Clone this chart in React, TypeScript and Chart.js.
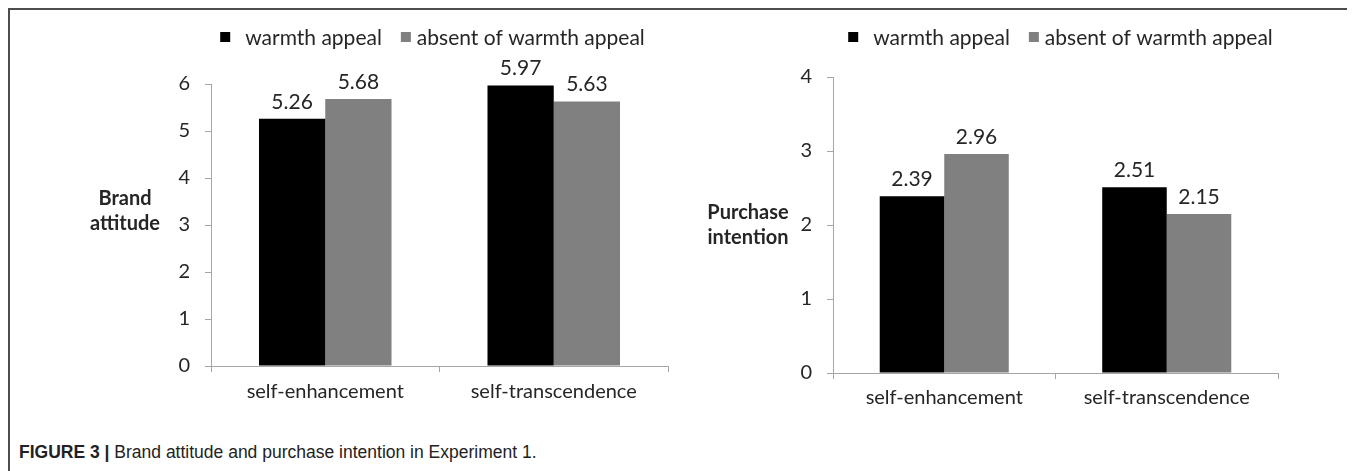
import React, { useEffect, useRef } from "react";
import { Chart, registerables } from "chart.js";
Chart.register(...registerables);

// ---------- data ----------
const categories = ["self-enhancement", "self-transcendence"];
const seriesNames = ["warmth appeal", "absent of warmth appeal"];
const brandWarmth = [5.26, 5.97];
const brandAbsent = [5.68, 5.63];
const purchaseWarmth = [2.39, 2.51];
const purchaseAbsent = [2.96, 2.15];
const brandTitle = ["Brand", "attitude"];
const purchaseTitle = ["Purchase", "intention"];
const brandMax = 6;
const purchaseMax = 4;
const seriesColors = ["#000000", "#808080"];

const FONT = "Lato, 'Open Sans', sans-serif";
const TEXT = "#262626";
const AXIS = "#a6a6a6";

const annotatePlugin = {
  id: "annotate",
  afterDatasetsDraw(chart: any, _args: any, opts: any) {
    const ctx = chart.ctx;
    const ca = chart.chartArea;
    ctx.save();
    ctx.fillStyle = TEXT;
    // value labels
    ctx.font = `21px ${FONT}`;
    ctx.textAlign = "center";
    ctx.textBaseline = "alphabetic";
    chart.data.datasets.forEach((ds: any, di: number) => {
      const meta = chart.getDatasetMeta(di);
      meta.data.forEach((bar: any, i: number) => {
        ctx.fillText(Number(ds.data[i]).toFixed(2), bar.x, bar.y - 10);
      });
    });
    // legend
    ctx.textAlign = "left";
    ctx.textBaseline = "middle";
    const sq = 10;
    const gaps = [15, 6];
    const itemGap = 19;
    const items = chart.data.datasets.map((ds: any) => ({
      label: ds.label,
      color: ds.backgroundColor,
      w: ctx.measureText(ds.label).width,
    }));
    let total = 0;
    items.forEach((it: any, k: number) => {
      total += sq + gaps[k] + it.w + (k < items.length - 1 ? itemGap : 0);
    });
    let x = (ca.left + ca.right) / 2 + opts.legendDx - total / 2;
    const ly = opts.legendY;
    items.forEach((it: any, k: number) => {
      ctx.fillStyle = it.color;
      ctx.fillRect(x, ly - sq / 2, sq, sq);
      x += sq + gaps[k];
      ctx.fillStyle = TEXT;
      ctx.fillText(it.label, x, ly + 1);
      x += it.w + itemGap;
    });
    // axis title (horizontal, bold, two lines)
    ctx.font = `bold 20px ${FONT}`;
    ctx.textAlign = "center";
    ctx.textBaseline = "middle";
    const cy = chart.scales.y.getPixelForValue(opts.titleValue);
    const lines: string[] = opts.title;
    const lh = 25;
    lines.forEach((l, k) => {
      ctx.fillText(l, ca.left + opts.titleDx, cy + (k - (lines.length - 1) / 2) * lh);
    });
    ctx.restore();
  },
};

type Props = {
  warmth: number[];
  absent: number[];
  max: number;
  title: string[];
  width: number;
  height: number;
  padding: { left: number; right: number; top: number; bottom: number };
  titleValue: number;
  titleDx: number;
  legendDx: number;
  legendY: number;
  labelPad: number;
};

function BarChart(p: Props) {
  const ref = useRef<HTMLCanvasElement | null>(null);
  useEffect(() => {
    if (!ref.current) return;
    const chart = new Chart(ref.current, {
      type: "bar",
      data: {
        labels: categories,
        datasets: [
          { label: seriesNames[0], data: p.warmth, backgroundColor: seriesColors[0], borderWidth: 0 },
          { label: seriesNames[1], data: p.absent, backgroundColor: seriesColors[1], borderWidth: 0 },
        ],
      },
      options: {
        responsive: false,
        animation: false,
        devicePixelRatio: 1,
        layout: { padding: p.padding },
        datasets: { bar: { categoryPercentage: 0.58, barPercentage: 1 } },
        plugins: {
          legend: { display: false },
          tooltip: { enabled: false },
          annotate: {
            title: p.title,
            titleValue: p.titleValue,
            titleDx: p.titleDx,
            legendDx: p.legendDx,
            legendY: p.legendY,
          },
        } as any,
        scales: {
          x: {
            afterFit: (s: any) => {
              s.height = 40;
            },
            grid: {
              display: true,
              drawOnChartArea: false,
              drawTicks: true,
              tickLength: 6,
              color: AXIS,
              offset: true,
            },
            border: { display: true, color: AXIS, width: 1 },
            ticks: { color: TEXT, font: { family: FONT, size: 20 }, padding: p.labelPad, maxRotation: 0 },
          },
          y: {
            min: 0,
            max: p.max,
            afterFit: (s: any) => {
              s.width = 50;
            },
            grid: {
              display: true,
              drawOnChartArea: false,
              drawTicks: true,
              tickLength: 6,
              color: AXIS,
            },
            border: { display: true, color: AXIS, width: 1 },
            ticks: { stepSize: 1, color: TEXT, font: { family: FONT, size: 20 }, padding: 15 },
          },
        },
      },
      plugins: [annotatePlugin],
    });
    return () => chart.destroy();
  }, []);
  return <canvas ref={ref} width={p.width} height={p.height} style={{ display: "block", width: p.width, height: p.height }} />;
}

export default function App() {
  return (
    <div style={{ position: "relative", width: 1347, height: 463, background: "#fff", overflow: "hidden" }}>
      <div style={{ position: "absolute", left: 0, top: 0, width: 1347, height: 2, background: "#4d4d4d" }} />
      <div style={{ position: "absolute", left: 0, top: 0, width: 2, height: 463, background: "#4d4d4d" }} />
      <div style={{ position: "absolute", left: 12, top: 2 }}>
        <BarChart
          warmth={brandWarmth}
          absent={brandAbsent}
          max={brandMax}
          title={brandTitle}
          width={670}
          height={410}
          padding={{ left: 141, right: 22, top: 74, bottom: 14 }}
          titleValue={3.3}
          titleDx={-86}
          legendDx={-7}
          legendY={27}
          labelPad={8}
        />
      </div>
      <div style={{ position: "absolute", left: 682, top: 2 }}>
        <BarChart
          warmth={purchaseWarmth}
          absent={purchaseAbsent}
          max={purchaseMax}
          title={purchaseTitle}
          width={655}
          height={410}
          padding={{ left: 93, right: 67, top: 67, bottom: 7 }}
          titleValue={2.0}
          titleDx={-85}
          legendDx={5}
          legendY={27}
          labelPad={7}
        />
      </div>
      <div
        style={{
          position: "absolute",
          left: 11,
          top: 434,
          fontFamily: "'Liberation Sans', Arial, sans-serif",
          fontSize: 17.5,
          lineHeight: "20px",
          color: "#222",
          whiteSpace: "nowrap",
        }}
      >
        <b>FIGURE 3 |</b> Brand attitude and purchase intention in Experiment 1.
      </div>
    </div>
  );
}
